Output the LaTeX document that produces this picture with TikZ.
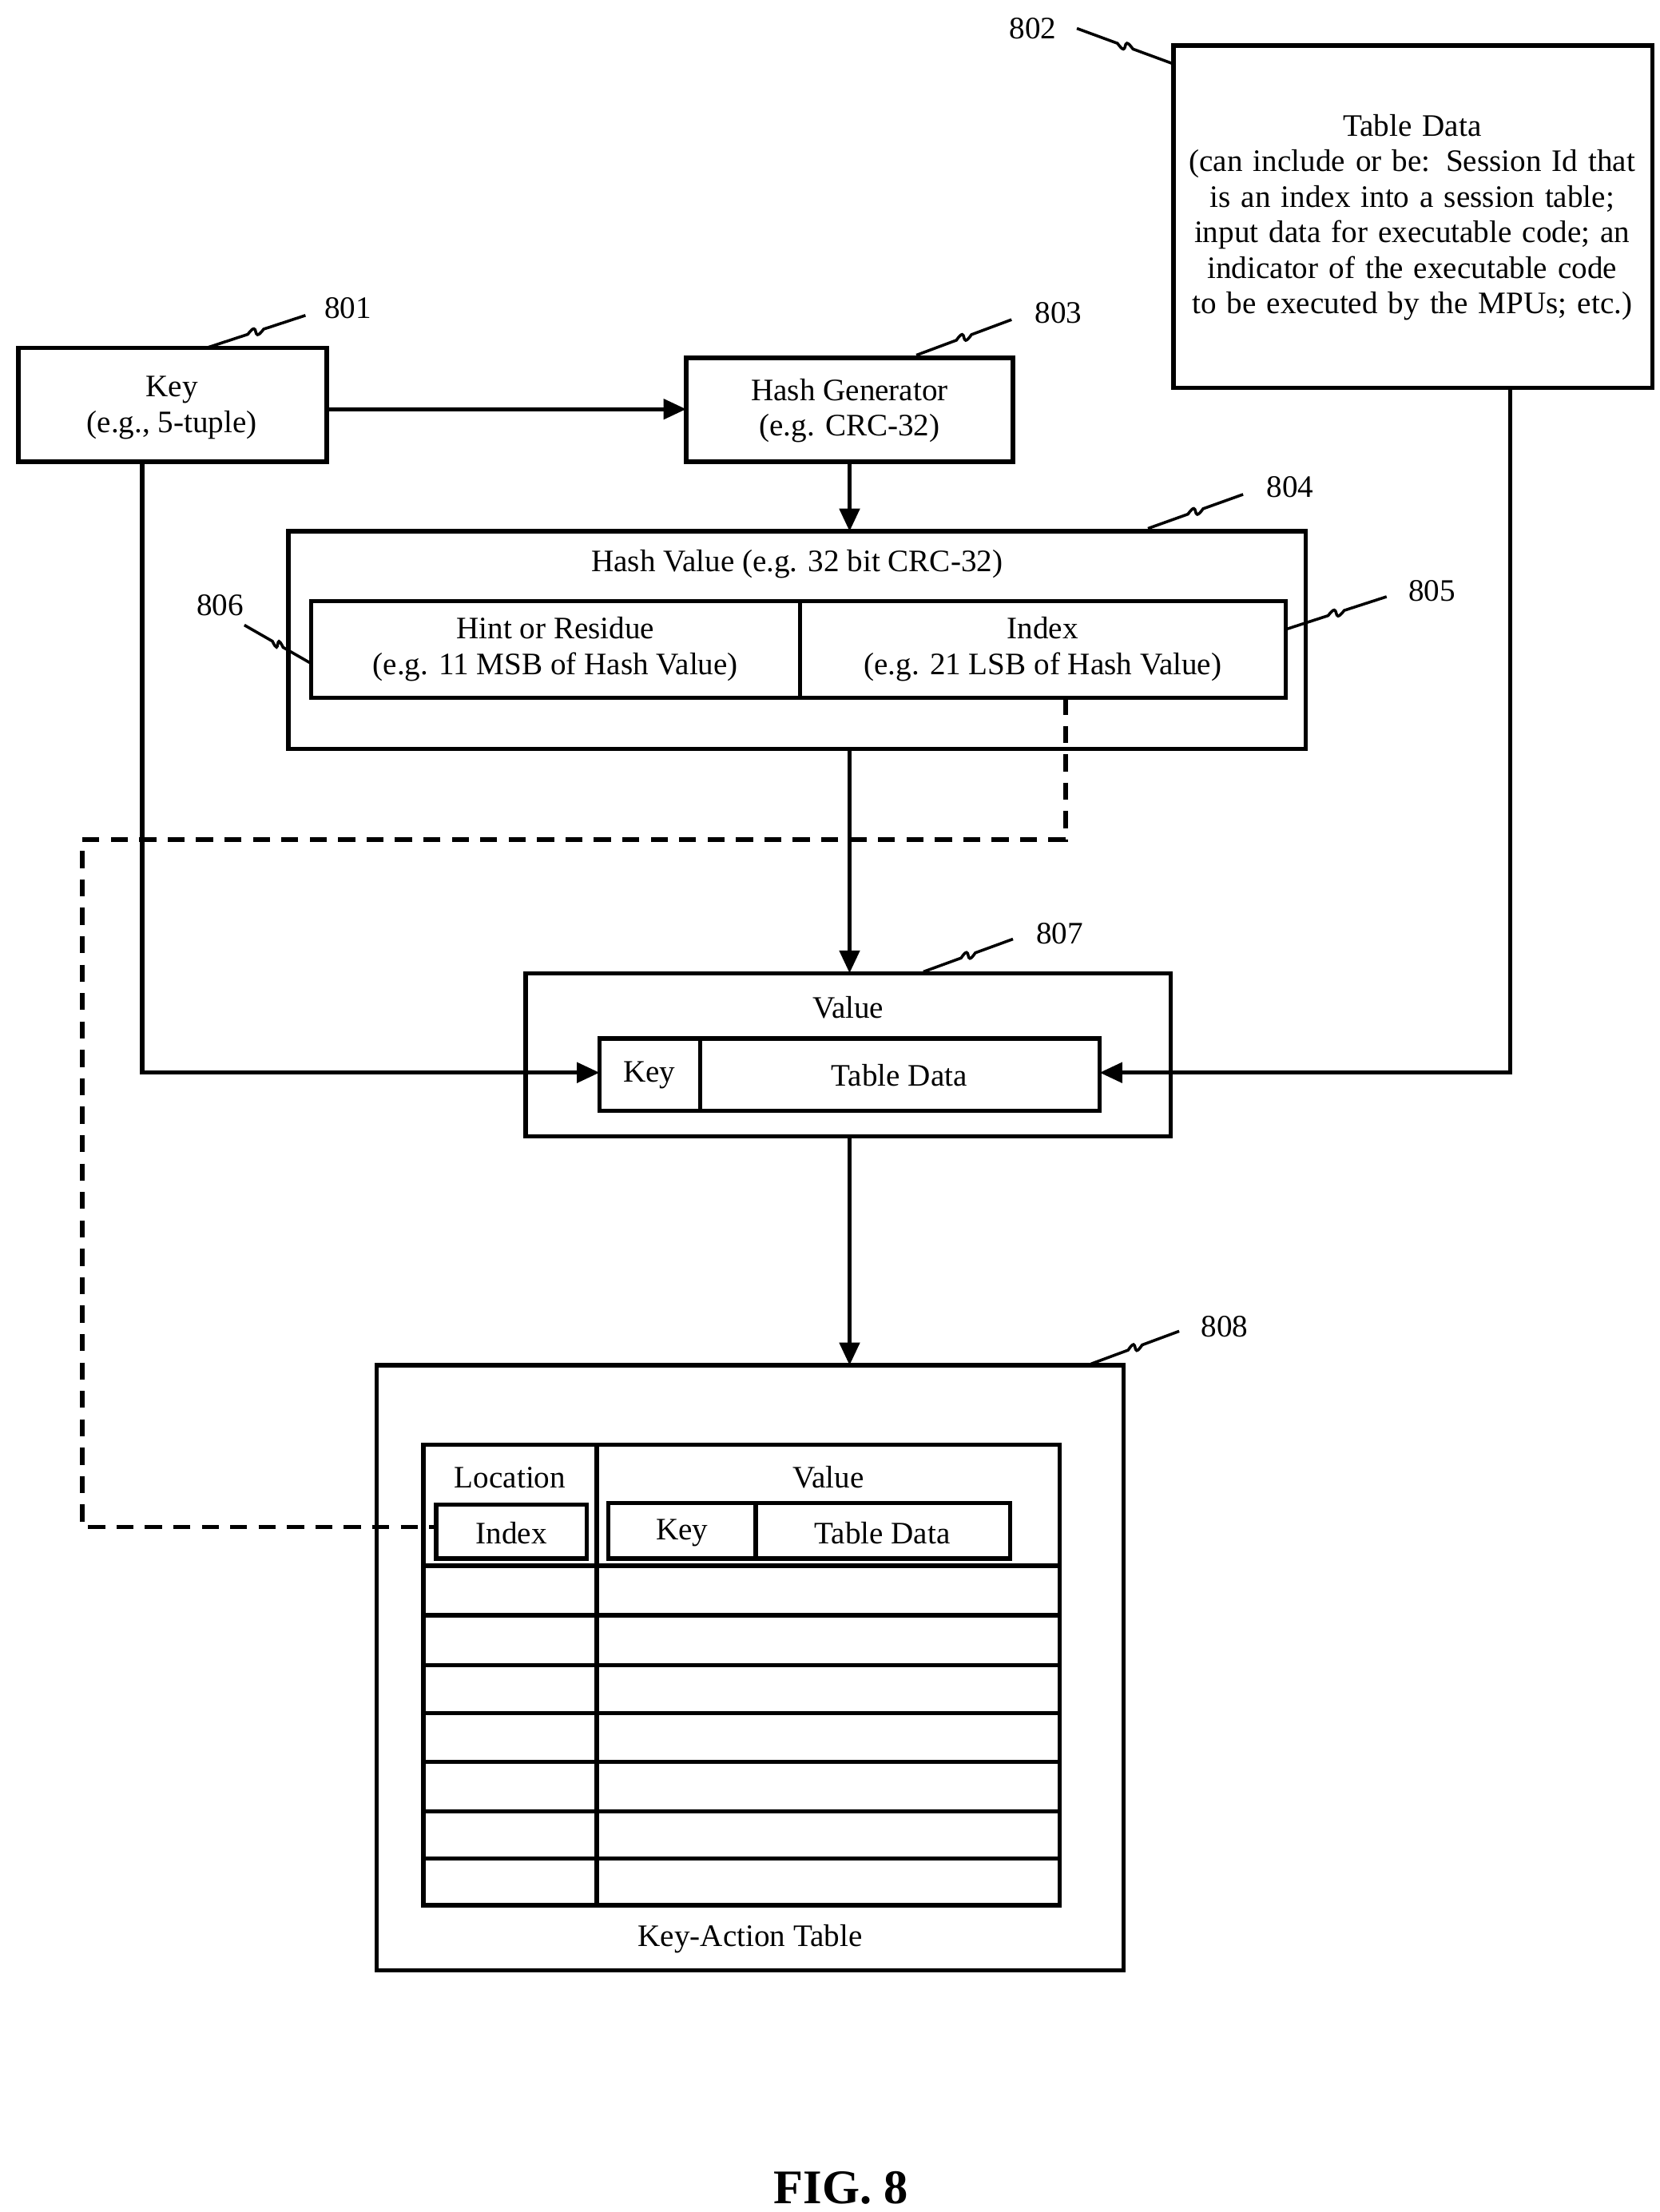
\documentclass[tikz,border=0pt]{standalone}
\usepackage{fontspec}
\setmainfont{Liberation Serif}
\usetikzlibrary{calc,arrows.meta}
\begin{document}
\begin{tikzpicture}[x=1pt,y=-1pt,line width=3pt,
  box/.style={draw,rectangle,inner sep=0pt,line width=3pt},
  txt/.style={font=\fontsize{22}{25}\selectfont,align=center,inner sep=0pt},
  lbl/.style={font=\fontsize{22}{25}\selectfont,inner sep=0pt},
  arr/.style={-{Triangle[length=16pt,width=14pt]},line width=3pt},
  dsh/.style={dash pattern=on 12pt off 8pt,line width=3pt},
  lead/.style={line width=2pt}]
\useasboundingbox (0,0) rectangle (1168,1557);
\newcommand{\leadr}[2]{\draw[lead] (#1) -- ($(#1)!0.42!(#2)$) .. controls ($(#1)!0.55!(#2)+(0,-9)$) and ($(#1)!0.45!(#2)+(0,9)$) .. ($(#1)!0.58!(#2)$) -- (#2);}
% boxes
\draw[box] (13,245) rectangle (230,325);
\node[txt] (key) at (121,287) {Key\\(e.g., 5-tuple)};
\draw[box] (483,252) rectangle (713,325);
\node[txt] (hg) at (598,289) {Hash Generator\\(e.g. CRC-32)};
\draw[box] (826,32) rectangle (1163,273);
\node[txt,text width=330pt] (td) at (994,153) {Table Data\\(can include or be: Session Id that is an index into a session table; input data for executable code; an indicator of the executable code to be executed by the MPUs; etc.)};
\draw[box] (203,374) rectangle (919,527);
\node[txt] (hv) at (561,397) {Hash Value (e.g. 32 bit CRC-32)};
\draw[box] (219,423) rectangle (905,491);
\draw (563,423) -- (563,491);
\node[txt] (hint) at (391,457) {Hint or Residue\\(e.g. 11 MSB of Hash Value)};
\node[txt] (idx) at (734,457) {Index\\(e.g. 21 LSB of Hash Value)};
\draw[box] (370,685) rectangle (824,800);
\node[txt] (val) at (597,709) {Value};
\draw[box] (422,731) rectangle (774,782);
\draw (493,731) -- (493,782);
\node[txt] (vkey) at (457,757) {Key};
\node[txt] (vtd) at (633,757) {Table Data};
% key-action table
\draw[box] (265,961) rectangle (791,1387);
\draw[box] (298,1017) rectangle (746,1341);
\draw (420,1017) -- (420,1341);
\foreach \y in {1102,1137,1172,1206,1240,1275,1308} \draw (298,\y) -- (746,\y);
\node[txt] (loc) at (359,1040) {Location};
\node[txt] (tval) at (583,1040) {Value};
\draw[box] (307,1059) rectangle (413,1097);
\node[txt] (tidx) at (360,1079) {Index};
\draw[box] (428,1058) rectangle (711,1097);
\draw (532,1058) -- (532,1097);
\node[txt] (tkey) at (480,1079) {Key};
\node[txt] (ttd) at (621,1079) {Table Data};
\node[txt] (kat) at (528,1365) {Key-Action Table};
\node[font=\fontsize{34}{38}\selectfont\bfseries,inner sep=0pt] (fig) at (592,1540) {FIG. 8};
% connectors
\draw[arr] (230,288) -- (483,288);
\draw[arr] (598,325) -- (598,374);
\draw[arr] (598,527) -- (598,685);
\draw[arr] (598,800) -- (598,961);
\draw[arr] (100,325) -- (100,755) -- (422,755);
\draw[arr] (1063,273) -- (1063,755) -- (774,755);
\draw[dsh] (750,491) -- (750,591) -- (58,591) -- (58,1075) -- (307,1075);
% labels
\node[lbl] (l801) at (245,217) {801};
\node[lbl] (l802) at (727,20) {802};
\node[lbl] (l803) at (745,220) {803};
\node[lbl] (l804) at (908,343) {804};
\node[lbl] (l805) at (1008,416) {805};
\node[lbl] (l806) at (155,426) {806};
\node[lbl] (l807) at (746,657) {807};
\node[lbl] (l808) at (862,934) {808};
\coordinate (a801) at (145,245); \coordinate (b801) at (215,222);
\coordinate (a802) at (826,45); \coordinate (b802) at (758,20);
\coordinate (a803) at (645,250); \coordinate (b803) at (712,225);
\coordinate (a804) at (808,372); \coordinate (b804) at (875,348);
\coordinate (a805) at (905,443); \coordinate (b805) at (976,420);
\coordinate (a806) at (219,467); \coordinate (b806) at (172,440);
\coordinate (a807) at (650,684); \coordinate (b807) at (713,661);
\coordinate (a808) at (768,960); \coordinate (b808) at (830,937);
\leadr{a801}{b801}\leadr{a802}{b802}\leadr{a803}{b803}\leadr{a804}{b804}
\leadr{a805}{b805}\leadr{a806}{b806}\leadr{a807}{b807}\leadr{a808}{b808}
\end{tikzpicture}
\end{document}
